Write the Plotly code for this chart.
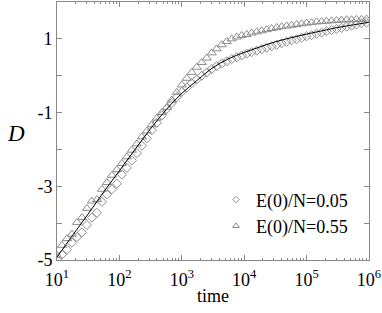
import plotly.graph_objects as go

# log10(time) grid for the simulation markers
log_t = [1.00, 1.08, 1.16, 1.24, 1.32, 1.40, 1.48, 1.56, 1.64, 1.72,
         1.80, 1.88, 1.96, 2.04, 2.12, 2.20, 2.28, 2.36, 2.44, 2.52,
         2.60, 2.68, 2.76, 2.84, 2.92, 3.00, 3.08, 3.16, 3.24, 3.32,
         3.40, 3.48, 3.56, 3.64, 3.72, 3.80, 3.88, 3.96, 4.04, 4.12,
         4.20, 4.28, 4.36, 4.44, 4.52, 4.60, 4.68, 4.76, 4.84, 4.92,
         5.00, 5.08, 5.16, 5.24, 5.32, 5.40, 5.48, 5.56, 5.64, 5.72,
         5.80, 5.88, 5.96]

D_005 = [-4.97, -4.85, -4.72, -4.53, -4.38, -4.25, -4.05, -3.85, -3.72, -3.42,
         -3.22, -3.08, -2.93, -2.68, -2.50, -2.30, -2.10, -1.90, -1.70, -1.48,
         -1.28, -1.08, -0.90, -0.74, -0.58, -0.44, -0.32, -0.20, -0.10, 0.00,
         0.09, 0.18, 0.26, 0.33, 0.39, 0.45, 0.50, 0.55, 0.60, 0.64,
         0.68, 0.72, 0.76, 0.80, 0.84, 0.88, 0.92, 0.96, 0.99, 1.03,
         1.07, 1.10, 1.14, 1.17, 1.21, 1.24, 1.27, 1.30, 1.33, 1.36,
         1.39, 1.42, 1.44]

D_055 = [-4.88, -4.60, -4.42, -4.30, -3.98, -3.85, -3.60, -3.40, -3.36, -3.08,
         -2.90, -2.70, -2.55, -2.38, -2.20, -2.02, -1.85, -1.66, -1.50, -1.33,
         -1.15, -1.00, -0.86, -0.66, -0.45, -0.25, -0.07, 0.09, 0.23, 0.36,
         0.48, 0.62, 0.73, 0.84, 0.93, 1.00, 1.05, 1.09, 1.12, 1.16,
         1.19, 1.22, 1.25, 1.28, 1.31, 1.33, 1.35, 1.37, 1.39, 1.41,
         1.43, 1.44, 1.46, 1.47, 1.48, 1.49, 1.50, 1.51, 1.52, 1.52,
         1.53, 1.53, 1.54]

# fitted curve
fit_log_t = [1.0, 1.25, 1.5, 1.75, 2.0, 2.25, 2.5, 2.75, 3.0, 3.25, 3.5,
             3.75, 4.0, 4.25, 4.5, 4.75, 5.0, 5.25, 5.5, 5.75, 6.0]
fit_D = [-4.92, -4.33, -3.75, -3.15, -2.58, -2.0, -1.44, -0.92, -0.48, -0.12, 0.22,
         0.46, 0.63, 0.78, 0.92, 1.03, 1.13, 1.22, 1.31, 1.38, 1.45]

y_ticks = [-5, -4, -3, -2, -1, 0, 1]
y_ticktext = ["-5", "", "-3", "", "-1", "", "1"]
x_decades = [1, 2, 3, 4, 5, 6]

t = [10 ** v for v in log_t]
fit_t = [10 ** v for v in fit_log_t]

FONT = "'Liberation Serif', 'Times New Roman', 'DejaVu Serif', serif"
MC = "#8c8c8c"

fig = go.Figure()
fig.add_trace(go.Scatter(
    x=t, y=D_005, mode="markers", showlegend=False,
    marker=dict(symbol="diamond-open", size=7, color=MC, line=dict(width=1, color=MC)),
))
fig.add_trace(go.Scatter(
    x=t, y=D_055, mode="markers", showlegend=False,
    marker=dict(symbol="triangle-up-open", size=8, color=MC, line=dict(width=1, color=MC)),
))
fig.add_trace(go.Scatter(
    x=fit_t, y=fit_D, mode="lines", showlegend=False,
    line=dict(color="black", width=1, shape="spline"),
))
# legend entries (smaller symbols as in the reference legend)
fig.add_trace(go.Scatter(
    x=[None], y=[None], mode="markers", name="E(0)/N=0.05",
    marker=dict(symbol="diamond-open", size=5, color=MC, line=dict(width=1, color=MC)),
))
fig.add_trace(go.Scatter(
    x=[None], y=[None], mode="markers", name="E(0)/N=0.55",
    marker=dict(symbol="triangle-up-open", size=6, color=MC, line=dict(width=1, color=MC)),
))

minor_vals = [m * 10 ** d for d in range(1, 6) for m in range(2, 10)]

fig.update_layout(
    width=382, height=313,
    margin=dict(l=57, r=11, t=1, b=53),
    paper_bgcolor="white", plot_bgcolor="white",
    font=dict(family=FONT, size=17, color="black"),
    showlegend=True,
    legend=dict(
        x=0.51, y=0.305, xanchor="left", yanchor="top",
        bgcolor="rgba(0,0,0,0)", font=dict(family=FONT, size=18),
        tracegroupgap=0, itemwidth=30,
    ),
    xaxis=dict(
        type="log", range=[1, 6.0005],
        tickvals=[10 ** d for d in x_decades],
        ticktext=["10<sup>%d</sup>" % d for d in x_decades],
        ticks="inside", ticklen=5, tickcolor="#888", tickwidth=1,
        showline=True, linecolor="#888", linewidth=1, mirror="ticks",
        showgrid=False, zeroline=False, ticklabeloverflow="allow",
        ticklabelstandoff=3,
        tickfont=dict(family=FONT, size=18),
        minor=dict(tickmode="array", tickvals=minor_vals, ticks="inside",
                   ticklen=2, tickcolor="#888", showgrid=False),
        title=dict(text="time", font=dict(family=FONT, size=18), standoff=0),
    ),
    yaxis=dict(
        range=[-5, 2],
        tickvals=y_ticks, ticktext=y_ticktext,
        ticks="inside", ticklen=5, tickcolor="#888", tickwidth=1,
        showline=True, linecolor="#888", linewidth=1, mirror="ticks",
        showgrid=False, zeroline=False,
        tickfont=dict(family=FONT, size=18),
    ),
    annotations=[dict(
        text="<i>D</i>", xref="paper", yref="paper", x=-0.13, y=0.49,
        xanchor="center", yanchor="middle", showarrow=False,
        font=dict(family=FONT, size=23),
    )],
)

fig.write_html("out.html", config={"displayModeBar": False},
               post_script="document.body.style.margin='0px';")
